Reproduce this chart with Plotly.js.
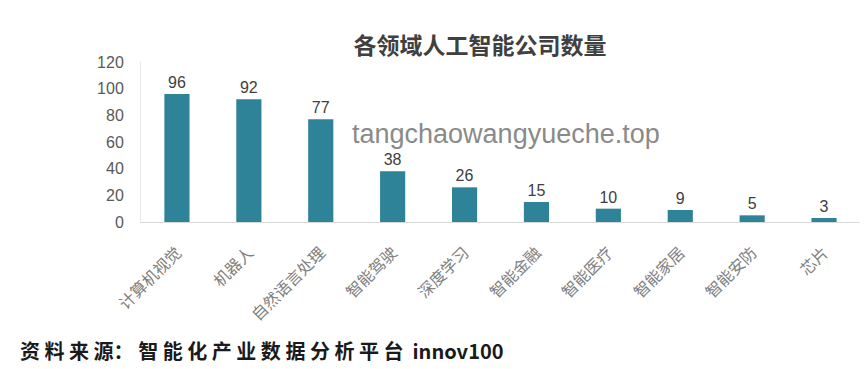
<!DOCTYPE html>
<html><head><meta charset="utf-8">
<script src="https://cdn.plot.ly/plotly-3.0.1.min.js"></script>
<style>html,body{margin:0;padding:0;background:#fff;}#chart{width:865px;height:369px;}</style>
</head><body><div id="chart"></div>
<script>
const categories = ["计算机视觉","机器人","自然语言处理","智能驾驶","深度学习","智能金融","智能医疗","智能家居","智能安防","芯片"];
const companyCounts = [96, 92, 77, 38, 26, 15, 10, 9, 5, 3];
const yTicks = [0, 20, 40, 60, 80, 100, 120];

const trace = {
  type: 'bar',
  x: categories,
  y: companyCounts,
  marker: {color: '#2f8399'},
  text: companyCounts.map(String),
  textposition: 'outside',
  cliponaxis: false,
  textfont: {family: 'Liberation Sans, Arial, sans-serif', size: 16, color: '#404040'},
  hoverinfo: 'none'
};

const layout = {
  width: 865, height: 369,
  margin: {l: 141, r: 5, t: 62, b: 147},
  paper_bgcolor: '#fff', plot_bgcolor: '#fff',
  bargap: 0.65,
  showlegend: false,
  title: {
    text: '<b>各领域人工智能公司数量</b>',
    x: 0.555, xanchor: 'center', y: 0.875, yanchor: 'middle',
    font: {family: 'Noto Sans CJK SC', size: 23, color: '#404040'}
  },
  xaxis: {
    type: 'category',
    showline: true, linecolor: '#d9d9d9', linewidth: 1,
    showgrid: false, zeroline: false,
    tickangle: -45, ticks: 'outside', ticklen: 14, tickcolor: 'rgba(0,0,0,0)',
    tickfont: {family: 'Noto Sans CJK SC', size: 16, color: '#808080'}
  },
  yaxis: {
    range: [0, 120],
    tickvals: yTicks,
    showline: true, linecolor: '#e6e6e6', linewidth: 1,
    showgrid: false, zeroline: false,
    ticks: 'outside', ticklen: 13, tickcolor: 'rgba(0,0,0,0)',
    tickfont: {family: 'Liberation Sans, Arial, sans-serif', size: 16, color: '#595959'}
  },
  annotations: [
    {
      text: 'tangchaowangyueche.top', xref: 'paper', yref: 'paper',
      x: 0.508, y: 0.55, xanchor: 'center', yanchor: 'middle', showarrow: false,
      font: {family: 'Liberation Sans, Arial, sans-serif', size: 27, color: '#8a8a8a'}
    },
    {
      text: '<b>资 料 来 源： 智 能 化 产 业 数 据 分 析 平 台</b>  <b>innov100</b>',
      xref: 'paper', yref: 'paper', x: -123/719, y: -128/160,
      xanchor: 'left', yanchor: 'middle', showarrow: false,
      font: {family: 'Noto Sans CJK SC', size: 20, color: '#1a1a1a'}
    }
  ]
};

Plotly.newPlot('chart', [trace], layout, {displayModeBar: false, staticPlot: true});
</script>
</body></html>
